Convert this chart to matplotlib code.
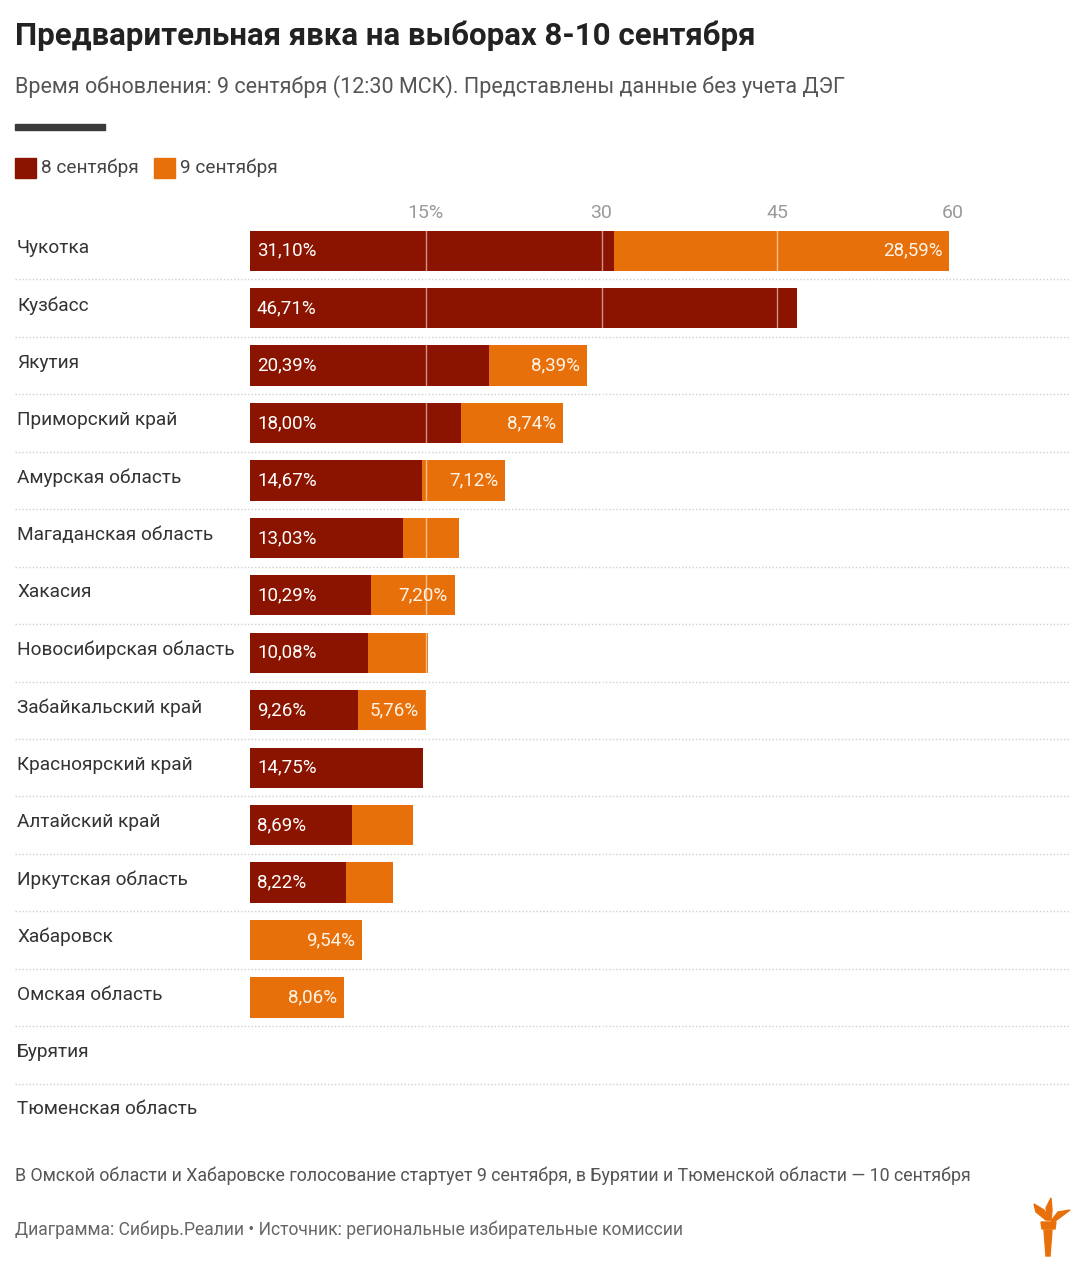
import numpy as np
import matplotlib
matplotlib.use("Agg")
import matplotlib.pyplot as plt
from matplotlib.patches import Rectangle, Polygon

plt.rcParams['font.family'] = ['Roboto', 'DejaVu Sans']

# data
regions = ['Чукотка', 'Кузбасс', 'Якутия', 'Приморский край', 'Амурская область',
           'Магаданская область', 'Хакасия', 'Новосибирская область', 'Забайкальский край',
           'Красноярский край', 'Алтайский край', 'Иркутская область', 'Хабаровск',
           'Омская область', 'Бурятия', 'Тюменская область']
sep8 = [31.10, 46.71, 20.39, 18.00, 14.67, 13.03, 10.29, 10.08, 9.26, 14.75, 8.69, 8.22,
        0, 0, 0, 0]
sep9 = [28.59, 0, 8.39, 8.74, 7.12, 4.83, 7.20, 5.11, 5.76, 0, 5.21, 3.98, 9.54, 8.06, 0, 0]
tick_vals = [15, 30, 45, 60]
tick_labels = ['15%', '30', '45', '60']

DARK = '#8b1400'
ORANGE = '#e8700a'
W, H = 1088, 1280

fig = plt.figure(figsize=(W / 100, H / 100), dpi=100)

# axes spans the full row width (x 15..1070 px); 0 -> 250px, 60 -> 953px
ppu = (953 - 250) / 60
x_left = (15 - 250) / ppu
x_right = (1070 - 250) / ppu
top_px, bot_px = 222, 1141
ax = fig.add_axes([15 / W, 1 - bot_px / H, (1070 - 15) / W, (bot_px - top_px) / H])
ax.set_xlim(x_left, x_right)
n = len(regions)
ax.set_ylim(n - 0.5, -0.5)

y = np.arange(n)
ax.barh(y, sep8, height=0.7, color=DARK, zorder=2)
ax.barh(y, sep9, left=sep8, height=0.7, color=ORANGE, zorder=2)

# white grid lines over the bars
for v in tick_vals[:-1]:
    ax.axvline(v, color='white', lw=1, alpha=0.55, zorder=3)

# dotted row separators
for i in range(n - 1):
    ax.axhline(i + 0.5, color='#d0d0d0', lw=1, ls=(0, (1, 1.5)), zorder=1)

pad = 7 / ppu
for i in range(n):
    if sep8[i] > 0:
        ax.text(pad, i, f'{sep8[i]:.2f}%'.replace('.', ','), va='center', ha='left',
                color='white', fontsize=13.5, zorder=4)
    if sep9[i] >= 5.5:
        ax.text(sep8[i] + sep9[i] - pad, i, f'{sep9[i]:.2f}%'.replace('.', ','),
                va='center', ha='right', color='#fff4e8', fontsize=13.5, zorder=4)
    ax.text(x_left + 2 / ppu, i - 0.05, regions[i], va='center', ha='left',
            color='#333333', fontsize=13.7)

ax.xaxis.tick_top()
ax.set_xticks(tick_vals)
ax.set_xticklabels(tick_labels)
ax.tick_params(axis='x', length=0, pad=0, labelsize=14, labelcolor='#9a9a9a')
ax.set_yticks([])
for s in ax.spines.values():
    s.set_visible(False)

# header
fig.text(15 / W, 1 - 36 / H, 'Предварительная явка на выборах 8-10 сентября',
         fontsize=22.5, fontweight='bold', color='#222222', va='center', ha='left')
fig.text(15 / W, 1 - 87 / H,
         'Время обновления: 9 сентября (12:30 МСК). Представлены данные без учета ДЭГ',
         fontsize=15.5, color='#555555', va='center', ha='left')
fig.patches.append(Rectangle((15 / W, 1 - 130 / H), 90 / W, 6 / H,
                             transform=fig.transFigure, color='#3a3a3a'))

# legend
fig.patches.append(Rectangle((15 / W, 1 - 178 / H), 21 / W, 20 / H,
                             transform=fig.transFigure, color=DARK))
fig.text(41 / W, 1 - 168 / H, '8 сентября', fontsize=13.7, color='#444444',
         va='center', ha='left')
fig.patches.append(Rectangle((154 / W, 1 - 178 / H), 21 / W, 20 / H,
                             transform=fig.transFigure, color=ORANGE))
fig.text(180 / W, 1 - 168 / H, '9 сентября', fontsize=13.7, color='#444444',
         va='center', ha='left')

# footer
fig.text(15 / W, 1 - 1176 / H,
         'В Омской области и Хабаровске голосование стартует 9 сентября, '
         'в Бурятии и Тюменской области — 10 сентября',
         fontsize=12.75, color='#555555', va='center', ha='left')
fig.text(15 / W, 1 - 1230 / H,
         'Диаграмма: Сибирь.Реалии • Источник: региональные избирательные комиссии',
         fontsize=12.65, color='#666666', va='center', ha='left')

# torch logo (rough)
def px(pts):
    return [(x / W, 1 - yy / H) for x, yy in pts]

logo = ORANGE
fig.patches.append(Polygon(px([(1044, 1230), (1052, 1230), (1050, 1256), (1046, 1256)]),
                           closed=True, transform=fig.transFigure, color=logo))
fig.patches.append(Polygon(px([(1041, 1222), (1056, 1222), (1055, 1229), (1042, 1229)]),
                           closed=True, transform=fig.transFigure, color=logo))
fig.patches.append(Polygon(px([(1046, 1220), (1036, 1212), (1034, 1204), (1044, 1210),
                               (1050, 1220)]),
                           closed=True, transform=fig.transFigure, color=logo))
fig.patches.append(Polygon(px([(1048, 1220), (1046, 1208), (1051, 1198), (1052, 1210),
                               (1051, 1220)]),
                           closed=True, transform=fig.transFigure, color=logo))
fig.patches.append(Polygon(px([(1051, 1221), (1058, 1212), (1070, 1210), (1062, 1216),
                               (1054, 1222)]),
                           closed=True, transform=fig.transFigure, color=logo))

fig.savefig('out.png', dpi=100)
